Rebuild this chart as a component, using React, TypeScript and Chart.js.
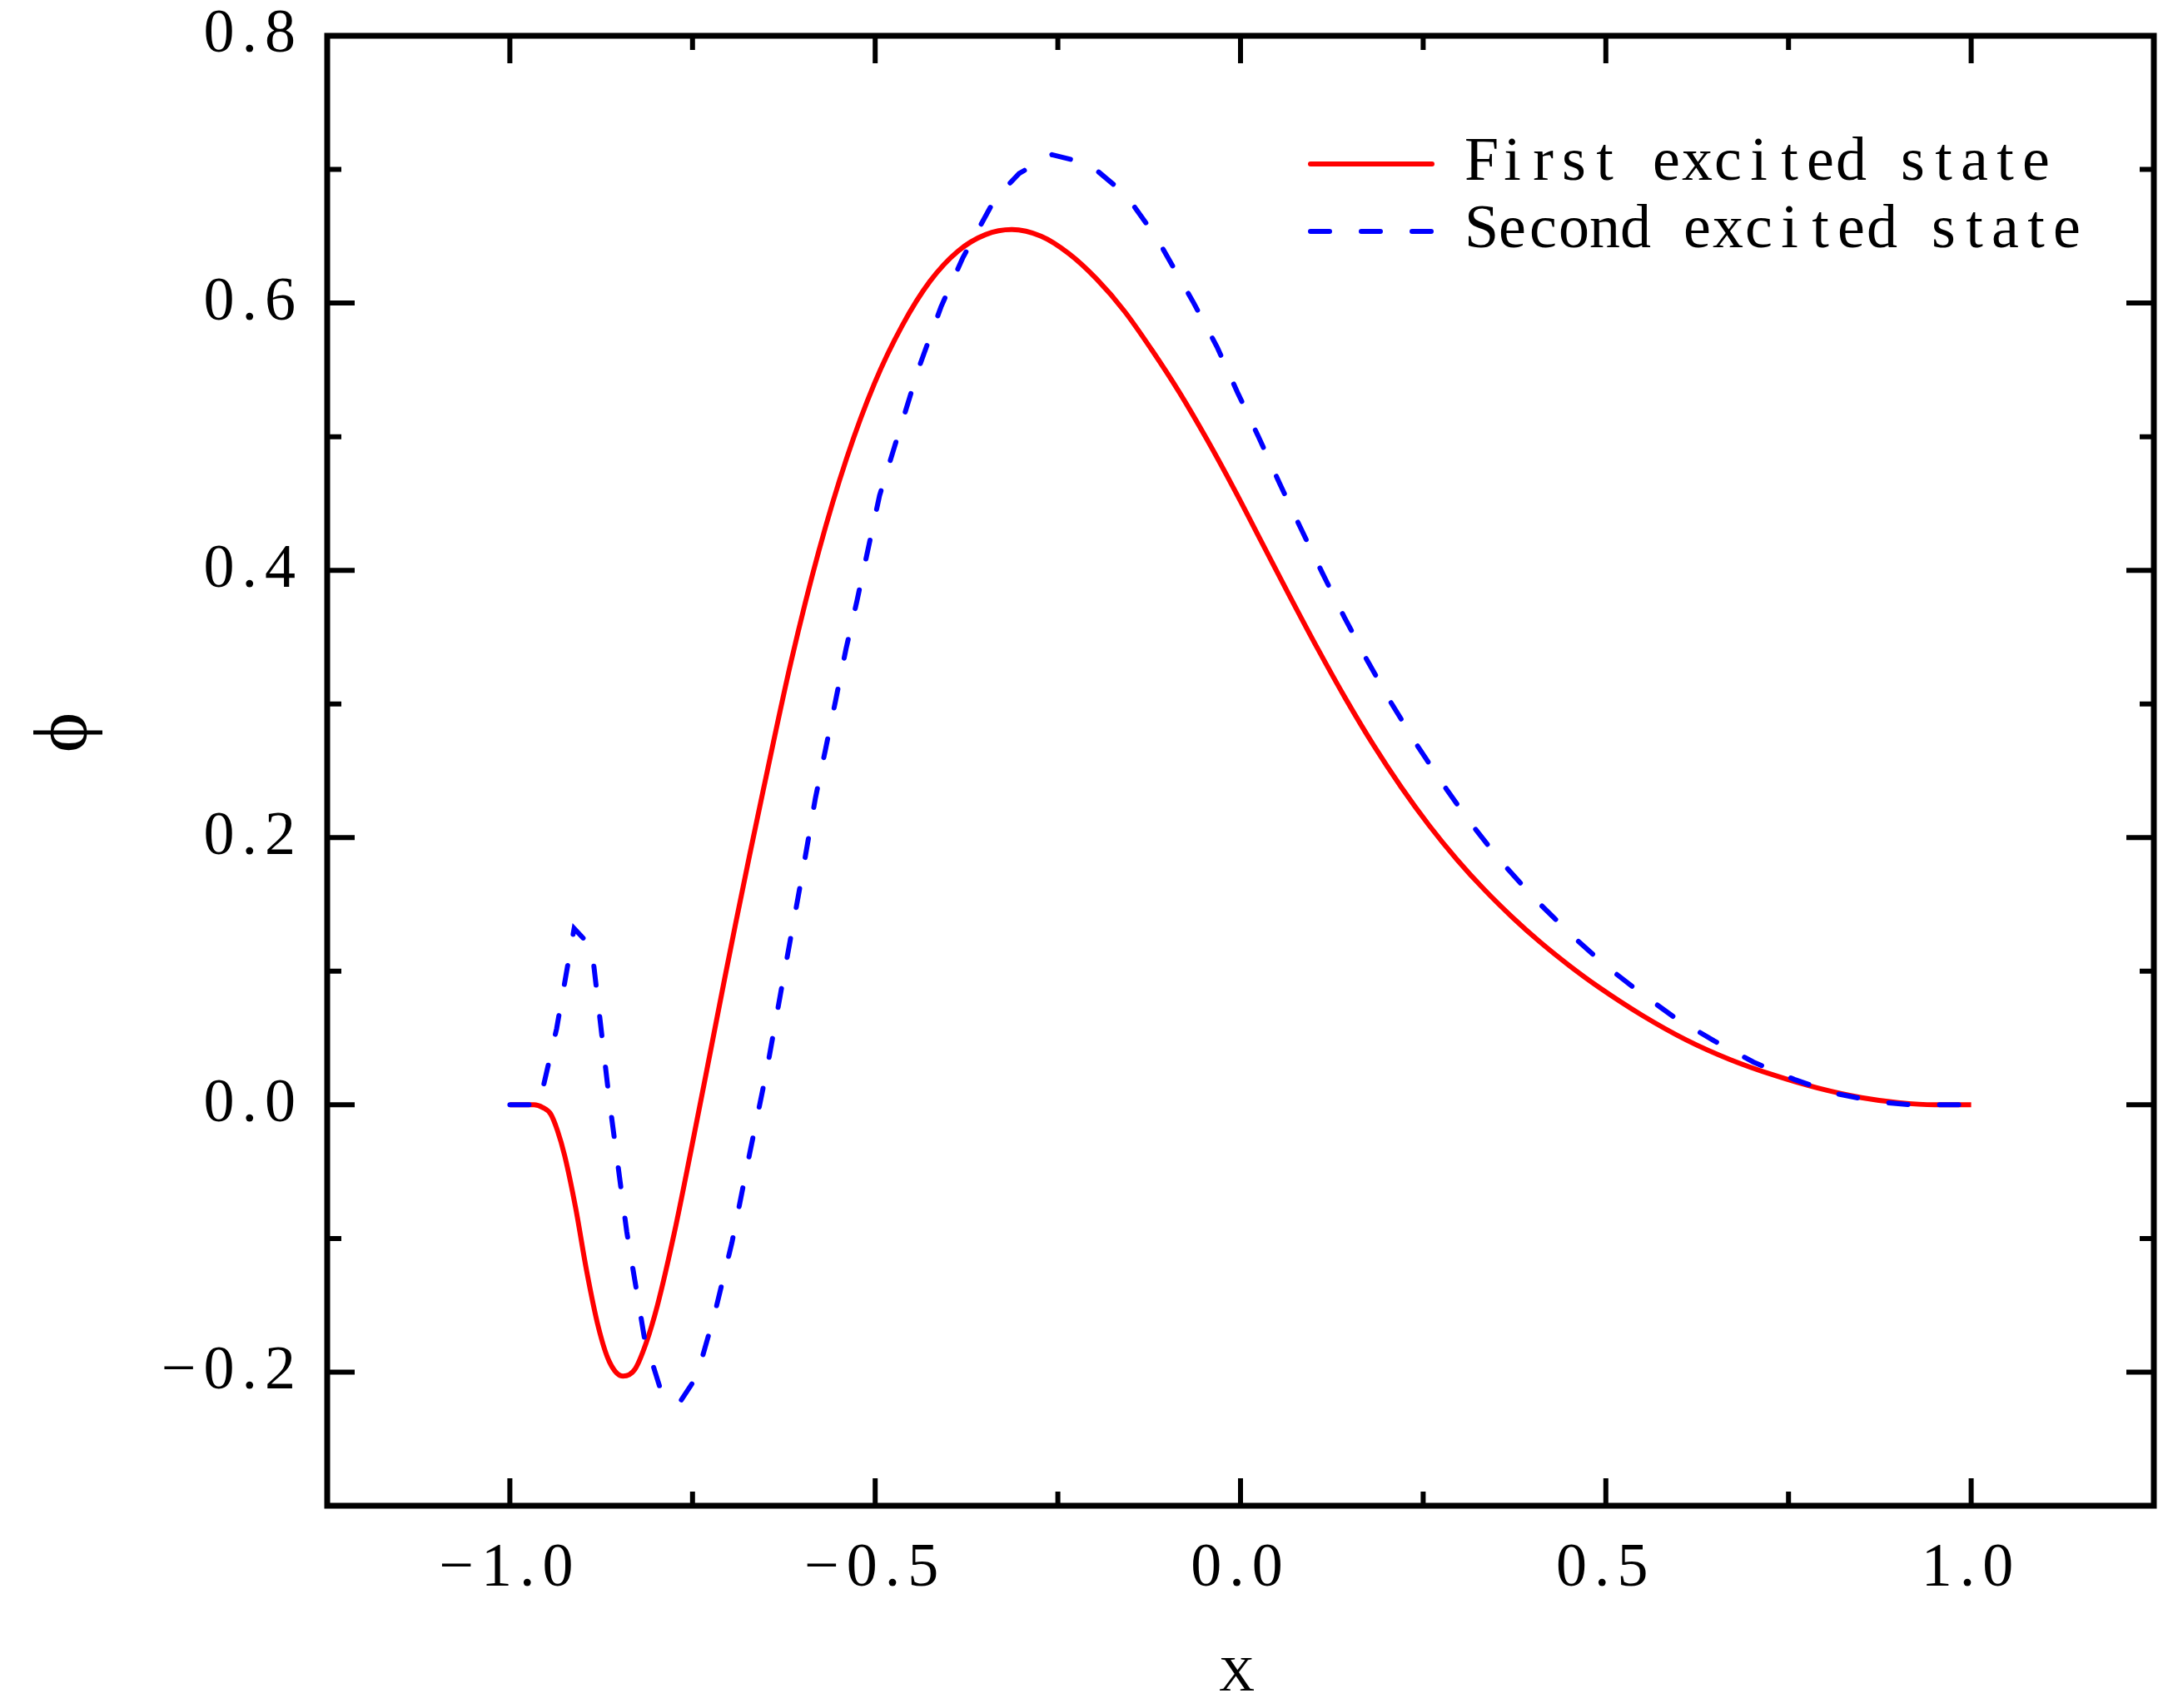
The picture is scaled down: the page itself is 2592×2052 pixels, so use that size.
import { useEffect, useRef } from "react"
import { Chart, registerables } from "chart.js"

Chart.register(...registerables)

// axis ticks
const X_TICKS = [-1, -0.5, 0, 0.5, 1]
const X_MINOR = [-0.75, -0.25, 0.25, 0.75]
const Y_TICKS = [-0.2, 0, 0.2, 0.4, 0.6, 0.8]
const Y_MINOR = [-0.1, 0.1, 0.3, 0.5, 0.7]

const SERIES_LABELS = ["First excited state", "Second excited state"]

// first excited state (smooth)
const FIRST_X = [
  -1.0, -0.967, -0.955, -0.944, -0.935, -0.925, -0.91, -0.895, -0.879, -0.864,
  -0.845, -0.829, -0.814, -0.798, -0.775, -0.752, -0.729, -0.706, -0.691, -0.672,
  -0.653, -0.615, -0.577, -0.539, -0.501, -0.463, -0.425, -0.387, -0.349, -0.313,
  -0.273, -0.235, -0.197, -0.159, -0.1215, -0.0835, -0.046, -0.008, 0.03, 0.068,
  0.106, 0.144, 0.182, 0.22, 0.258, 0.296, 0.334, 0.372, 0.41, 0.45,
  0.49, 0.55, 0.61, 0.67, 0.73, 0.79, 0.85, 0.9, 0.95, 1.0,
]
const FIRST_Y = [
  0, 0, -0.002, -0.007, -0.019, -0.038, -0.077, -0.124, -0.166, -0.192,
  -0.203, -0.198, -0.179, -0.15, -0.096, -0.034, 0.03, 0.0945, 0.1357, 0.1866,
  0.236, 0.332, 0.4148, 0.484, 0.5399, 0.5832, 0.6163, 0.6387, 0.6512, 0.655,
  0.65, 0.637, 0.618, 0.594, 0.565, 0.533, 0.498, 0.46, 0.42, 0.38,
  0.341, 0.3038, 0.2692, 0.2377, 0.2092, 0.1837, 0.1609, 0.1404, 0.1218, 0.1042,
  0.0882, 0.0669, 0.0486, 0.0339, 0.0222, 0.0126, 0.0054, 0.0017, 0, 0,
]

// second excited state (coarse grid, straight segments)
const SECOND_X = [
  -1.0, -0.96, -0.936, -0.912, -0.888, -0.864, -0.84, -0.816, -0.792, -0.768,
  -0.744, -0.72, -0.696, -0.672, -0.648, -0.624, -0.6, -0.582, -0.568, -0.554,
  -0.54, -0.525, -0.516, -0.494, -0.471, -0.44, -0.41, -0.38, -0.336, -0.303,
  -0.258, -0.207, -0.157, -0.115, -0.064, -0.032, -0.004, 0.025, 0.0535, 0.082,
  0.112, 0.142, 0.173, 0.206, 0.243, 0.277, 0.312, 0.352, 0.401, 0.455,
  0.5, 0.547, 0.595, 0.648, 0.702, 0.758, 0.81, 0.874, 0.92, 1.0,
]
const SECOND_Y = [
  0, 0, 0.057, 0.132, 0.118, 0.004, -0.095, -0.174, -0.216, -0.223,
  -0.203, -0.157, -0.103, -0.037, 0.027, 0.1, 0.172, 0.229, 0.266, 0.303,
  0.341, 0.377, 0.4, 0.456, 0.497, 0.552, 0.597, 0.634, 0.678, 0.697,
  0.711, 0.704, 0.681, 0.649, 0.6, 0.567, 0.533, 0.4995, 0.465, 0.432,
  0.398, 0.365, 0.333, 0.301, 0.268, 0.24, 0.213, 0.185, 0.155, 0.126,
  0.104, 0.084, 0.065, 0.048, 0.032, 0.019, 0.009, 0.002, 0, 0,
]

const RED = "#ff0000"
const BLUE = "#0000ff"
const DASH = [23, 38]
const FONT = '"Liberation Serif", "Times New Roman", serif'

const fmt = (v: number) => (v < 0 ? "\u2212" : "") + Math.abs(v).toFixed(1)

// frame, inward ticks on all sides, legend inside the plot, rotated y title
const framePlugin = {
  id: "frame",
  beforeDraw(chart: any) {
    chart.ctx.letterSpacing = "9px"
  },
  afterDraw(chart: any) {
    const { ctx, chartArea } = chart
    const { left, right, top, bottom } = chartArea
    const xs = chart.scales.x
    const ys = chart.scales.y
    ctx.save()
    ctx.letterSpacing = "0px"
    ctx.strokeStyle = "#000"
    ctx.lineCap = "butt"
    ctx.lineWidth = 6

    const xTick = (v: number, len: number) => {
      const px = xs.getPixelForValue(v)
      ctx.beginPath()
      ctx.moveTo(px, bottom); ctx.lineTo(px, bottom - len)
      ctx.moveTo(px, top); ctx.lineTo(px, top + len)
      ctx.stroke()
    }
    const yTick = (v: number, len: number) => {
      const py = ys.getPixelForValue(v)
      ctx.beginPath()
      ctx.moveTo(left, py); ctx.lineTo(left + len, py)
      ctx.moveTo(right, py); ctx.lineTo(right - len, py)
      ctx.stroke()
    }
    X_TICKS.forEach(v => xTick(v, 33))
    X_MINOR.forEach(v => xTick(v, 17))
    Y_TICKS.forEach(v => yTick(v, 33))
    Y_MINOR.forEach(v => yTick(v, 17))

    ctx.lineWidth = 7
    ctx.strokeRect(left, top, right - left, bottom - top)

    // legend
    const lx0 = right - 1013
    const lx1 = right - 867
    const tx = right - 826
    const rows = [top + 154, top + 235]
    const colors = [RED, BLUE]
    ctx.lineWidth = 6
    ctx.lineCap = "round"
    ctx.font = `74px ${FONT}`
    ctx.textAlign = "center"
    ctx.textBaseline = "middle"
    ctx.fillStyle = "#000"
    rows.forEach((ry, i) => {
      ctx.strokeStyle = colors[i]
      ctx.setLineDash(i === 1 ? DASH : [])
      ctx.beginPath()
      ctx.moveTo(lx0, ry); ctx.lineTo(lx1, ry)
      ctx.stroke()
      ctx.setLineDash([])
      const label = SERIES_LABELS[i]
      for (let k = 0; k < label.length; k++) {
        ctx.fillText(label[k], tx + 37 * k + 18.5, ry)
      }
    })

    // y title
    ctx.translate(left - 313, top + 837)
    ctx.rotate(-Math.PI / 2)
    ctx.font = `92px ${FONT}`
    ctx.fillText("\u03d5", 0, 0)
    ctx.restore()
  },
}

export default function App() {
  const canvasRef = useRef<HTMLCanvasElement>(null)

  useEffect(() => {
    if (!canvasRef.current) return
    Chart.defaults.font.family = FONT
    Chart.defaults.color = "#000"

    const chart = new Chart(canvasRef.current, {
      type: "line",
      data: {
        datasets: [
          {
            label: SERIES_LABELS[0],
            data: FIRST_X.map((x, i) => ({ x, y: FIRST_Y[i] })),
            borderColor: RED,
            borderWidth: 6,
            pointRadius: 0,
            cubicInterpolationMode: "monotone",
            order: 2,
          },
          {
            label: SERIES_LABELS[1],
            data: SECOND_X.map((x, i) => ({ x, y: SECOND_Y[i] })),
            borderColor: BLUE,
            borderWidth: 6,
            borderDash: DASH,
            borderCapStyle: "round",
            pointRadius: 0,
            tension: 0,
            order: 1,
          },
        ],
      },
      options: {
        responsive: false,
        devicePixelRatio: 1,
        animation: false,
        events: [],
        layout: { padding: { left: 0, top: 43, right: 5, bottom: 0 } },
        plugins: { legend: { display: false }, tooltip: { enabled: false } },
        scales: {
          x: {
            type: "linear",
            min: -1.25,
            max: 1.25,
            grid: { display: false, drawTicks: false },
            border: { display: false },
            afterBuildTicks: (s: any) => { s.ticks = X_TICKS.map(value => ({ value })) },
            afterFit: (s: any) => { s.height = 243 },
            ticks: {
              padding: 40,
              font: { size: 74, lineHeight: 1 },
              color: "#000",
              maxRotation: 0,
              autoSkip: false,
              callback: (v: any) => fmt(Number(v)),
            },
            title: {
              display: true,
              text: "X",
              color: "#000",
              font: { size: 60, lineHeight: 1.2 },
              padding: { top: 0, bottom: 1 },
            },
          },
          y: {
            type: "linear",
            min: -0.3,
            max: 0.8,
            grid: { display: false, drawTicks: false },
            border: { display: false },
            afterBuildTicks: (s: any) => { s.ticks = Y_TICKS.map(value => ({ value })) },
            afterFit: (s: any) => { s.width = 393 },
            ticks: {
              padding: 29,
              font: { size: 74, lineHeight: 0.3 },
              color: "#000",
              autoSkip: false,
              callback: (v: any) => fmt(Number(v)),
            },
          },
        },
      },
      plugins: [framePlugin],
    })

    return () => { chart.destroy() }
  }, [])

  return (
    <div style={{ position: "absolute", left: 0, top: 0, width: 2592, height: 2052, background: "#fff" }}>
      <canvas ref={canvasRef} width={2592} height={2052} aria-label="Excited state wave functions" role="img" />
    </div>
  )
}
